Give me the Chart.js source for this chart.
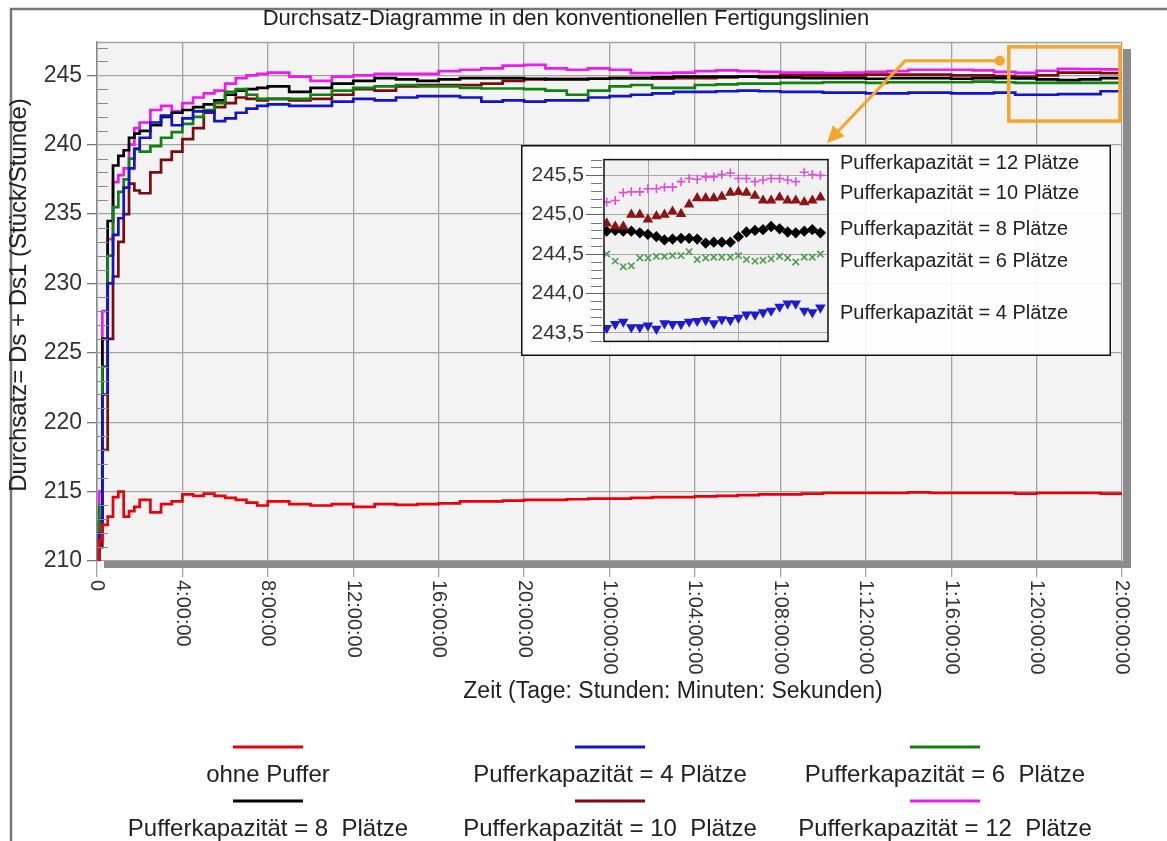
<!DOCTYPE html>
<html lang="de">
<head>
<meta charset="utf-8">
<title>Durchsatz-Diagramme</title>
<script src="https://cdn.jsdelivr.net/npm/chart.js@4.4.1/dist/chart.umd.min.js"></script>
<style>
  html, body { margin: 0; padding: 0; background: #fff; }
  #wrap { position: relative; width: 1167px; height: 841px; }
  #main { position: absolute; left: 0; top: 0; }
  #inset { position: absolute; left: 521px; top: 145px; }
</style>
</head>
<body>
<div id="wrap">
  <canvas id="main" width="1167" height="841"></canvas>
  <canvas id="inset" width="590" height="211"></canvas>
</div>
<script>
// ---- data (hours since start, Stück/Stunde) ----
const hours = [0, 0.1, 0.25, 0.5, 0.75, 1, 1.25, 1.5, 1.75, 2, 2.5, 3, 3.5, 4, 4.5, 5, 5.5, 6, 6.5, 7, 7.5, 8,
  9, 10, 11, 12, 13, 14, 15, 16, 17, 18, 19, 20, 21, 22, 23, 24, 25, 26, 27, 28, 29, 30,
  31, 32, 33, 34, 35, 36, 37, 38, 39, 40, 41, 42, 43, 44, 45, 46, 47, 48];

const ohnePuffer = [210, 211.5, 212.6, 213.2, 214.6, 215.0, 213.2, 213.6, 213.9, 214.4, 213.5, 214.1, 214.3, 214.8, 214.7, 214.85, 214.7, 214.55, 214.4, 214.2, 214.0, 214.3,
  214.1, 214.0, 214.1, 213.9, 214.1, 214.05, 214.1, 214.15, 214.3, 214.3, 214.35, 214.4, 214.4, 214.45, 214.5, 214.5, 214.55, 214.6, 214.6, 214.65, 214.7, 214.75,
  214.8, 214.8, 214.85, 214.9, 214.9, 214.9, 214.9, 214.95, 214.9, 214.9, 214.9, 214.9, 214.85, 214.9, 214.9, 214.9, 214.85, 214.85];
const puffer4 = [210, 212, 222, 230, 233.5, 234.7, 236.9, 238.3, 239.7, 240.5, 241.6, 242.1, 241.4, 241.9, 242.4, 242.4, 241.7, 241.9, 242.3, 242.6, 242.8, 242.9,
  242.8, 242.8, 243.1, 243.3, 243.2, 243.4, 243.5, 243.5, 243.4, 243.1, 243.2, 243.1, 243.2, 243.2, 243.4, 243.5, 243.6, 243.7, 243.8, 243.8, 243.85, 243.9,
  243.85, 243.8, 243.8, 243.75, 243.75, 243.7, 243.7, 243.75, 243.75, 243.7, 243.7, 243.75, 243.6, 243.6, 243.65, 243.65, 243.85, 243.8];
const puffer6 = [210, 214, 224, 232, 235.5, 236.6, 237.5, 239.0, 239.7, 239.5, 239.9, 240.5, 240.9, 241.5, 242.0, 242.5, 243.0, 243.8, 244.0, 243.6, 243.3, 243.3,
  243.3, 243.6, 243.9, 244.1, 244.2, 244.3, 244.2, 244.2, 244.1, 244.05, 244.05, 244.0, 243.9, 243.6, 243.9, 244.2, 244.3, 244.1, 244.1, 244.3, 244.35, 244.4,
  244.4, 244.45, 244.45, 244.5, 244.5, 244.45, 244.5, 244.5, 244.5, 244.5, 244.55, 244.5, 244.45, 244.45, 244.45, 244.45, 244.45, 244.5];
const puffer8 = [210, 213, 226, 234.5, 238.5, 239.2, 239.6, 240.5, 240.8, 241.0, 241.4, 242.0, 242.3, 242.5, 242.7, 242.9, 243.2, 243.6, 243.9, 244.0, 244.1, 244.2,
  243.8, 244.1, 244.4, 244.6, 244.8, 244.7, 244.6, 244.7, 244.8, 244.8, 244.8, 244.75, 244.7, 244.7, 244.75, 244.8, 244.8, 244.85, 244.9, 244.9, 244.9, 244.9,
  244.85, 244.85, 244.8, 244.8, 244.8, 244.75, 244.8, 244.8, 244.8, 244.75, 244.8, 244.8, 244.78, 244.7, 244.65, 244.7, 244.8, 244.75];
const puffer10 = [210, 211, 218, 226, 230.5, 233, 235, 237.2, 236.7, 236.5, 238.0, 238.9, 239.5, 240.4, 241.2, 242.3, 242.7, 243.0, 243.4, 243.3, 243.2, 243.3,
  243.2, 243.3, 243.6, 244.0, 243.9, 244.2, 244.3, 244.3, 244.3, 244.4, 244.6, 244.7, 244.75, 244.75, 244.75, 244.8, 244.8, 244.75, 244.8, 244.8, 244.85, 244.9,
  244.95, 245.0, 245.0, 245.0, 245.0, 245.05, 245.05, 245.05, 245.05, 245.0, 245.0, 244.95, 244.88, 245.0, 245.2, 245.2, 245.15, 245.18];
const puffer12 = [210, 215, 228, 233.2, 237.3, 237.8, 238.3, 240.0, 241.2, 241.6, 242.5, 242.8, 242.4, 243.0, 243.4, 243.7, 243.9, 244.4, 244.8, 245.0, 245.1, 245.2,
  244.9, 244.6, 244.9, 245.0, 245.1, 245.1, 245.1, 245.3, 245.4, 245.5, 245.7, 245.75, 245.5, 245.4, 245.5, 245.4, 245.15, 245.15, 245.2, 245.3, 245.35, 245.3,
  245.25, 245.2, 245.2, 245.15, 245.2, 245.25, 245.3, 245.4, 245.4, 245.4, 245.35, 245.25, 245.17, 245.33, 245.46, 245.45, 245.43, 245.5];

// zoomed detail, last hours of the run
const insetHours = [43.06, 43.25, 43.43, 43.61, 43.80, 43.98, 44.17, 44.35, 44.53, 44.72, 44.90, 45.08, 45.27, 45.45,
  45.63, 45.82, 46.00, 46.18, 46.37, 46.55, 46.73, 46.92, 47.10, 47.28, 47.47, 47.65, 47.83];
const inset12 = [245.16, 245.18, 245.28, 245.29, 245.29, 245.33, 245.33, 245.35, 245.35, 245.42, 245.46, 245.45, 245.48, 245.48,
  245.51, 245.53, 245.46, 245.46, 245.42, 245.44, 245.46, 245.46, 245.44, 245.42, 245.54, 245.51, 245.50];
const inset10 = [244.89, 244.85, 244.85, 245.0, 245.0, 244.94, 244.98, 245.0, 245.04, 245.01, 245.13, 245.21, 245.21, 245.21,
  245.23, 245.28, 245.29, 245.28, 245.24, 245.18, 245.18, 245.22, 245.18, 245.18, 245.16, 245.18, 245.22];
const inset8 = [244.79, 244.80, 244.79, 244.79, 244.77, 244.75, 244.72, 244.68, 244.69, 244.70, 244.70, 244.69, 244.64, 244.65,
  244.65, 244.65, 244.72, 244.78, 244.80, 244.81, 244.85, 244.82, 244.78, 244.77, 244.79, 244.81, 244.77];
const inset6 = [244.50, 244.41, 244.34, 244.35, 244.45, 244.45, 244.47, 244.47, 244.48, 244.48, 244.53, 244.43, 244.45, 244.46,
  244.46, 244.46, 244.48, 244.43, 244.41, 244.42, 244.44, 244.47, 244.45, 244.40, 244.46, 244.46, 244.50];
const inset4 = [243.56, 243.61, 243.64, 243.57, 243.57, 243.59, 243.55, 243.62, 243.61, 243.61, 243.64, 243.65, 243.66, 243.62,
  243.67, 243.66, 243.69, 243.73, 243.73, 243.76, 243.78, 243.83, 243.87, 243.87, 243.78, 243.76, 243.82];

const chartTitle = 'Durchsatz-Diagramme in den konventionellen Fertigungslinien';
const xTitle = 'Zeit (Tage: Stunden: Minuten: Sekunden)';
const yTitle = 'Durchsatz= Ds + Ds1 (Stück/Stunde)';
const yTicks = [210, 215, 220, 225, 230, 235, 240, 245];
const xTickLabels = ['0', '4:00:00', '8:00:00', '12:00:00', '16:00:00', '20:00:00', '1:00:00:00',
  '1:04:00:00', '1:08:00:00', '1:12:00:00', '1:16:00:00', '1:20:00:00', '2:00:00:00'];
const seriesNames = ['ohne Puffer', 'Pufferkapazität = 4 Plätze', 'Pufferkapazität = 6  Plätze',
  'Pufferkapazität = 8  Plätze', 'Pufferkapazität = 10  Plätze', 'Pufferkapazität = 12  Plätze'];
const insetNames = ['Pufferkapazität = 12 Plätze', 'Pufferkapazität = 10 Plätze', 'Pufferkapazität = 8 Plätze',
  'Pufferkapazität = 6 Plätze', 'Pufferkapazität = 4 Plätze'];
const insetYTicks = [243.5, 244.0, 244.5, 245.0, 245.5];
const insetXTicks = [44, 46];
// region of the main chart shown in the inset (hours, Stück/Stunde)
const zoomHours = [42.7, 48];
const zoomRange = [241.7, 247.05];

const FONT = "'Liberation Sans', Arial, sans-serif";
const GRID = '#a4a4a4';
const ORANGE = '#f5a52a';
const seriesColors = ['#e8000b', '#1414c8', '#0f820f', '#000000', '#7a0c0c', '#ec1cec'];
const seriesValues = [ohnePuffer, puffer4, puffer6, puffer8, puffer10, puffer12];

/**
 * Pairs x values with y values for a linear x axis.
 */
function toPoints(xs, ys) {
  return xs.map((x, i) => ({ x, y: ys[i] }));
}

function line(ctx, x1, y1, x2, y2) {
  ctx.beginPath();
  ctx.moveTo(x1, y1);
  ctx.lineTo(x2, y2);
  ctx.stroke();
}

// ---- inset chart ----
const insetPlugin = {
  id: 'inset-decor',
  beforeDraw(chart) {
    const { ctx, chartArea: a, width, height } = chart;
    ctx.save();
    ctx.fillStyle = 'rgba(255,255,255,0.9)';
    ctx.fillRect(0, 0, width, height);
    ctx.fillStyle = '#f1f1f1';
    ctx.fillRect(a.left, a.top, a.right - a.left, a.bottom - a.top);
    ctx.restore();
  },
  afterDraw(chart) {
    const { ctx, chartArea: a, width, height } = chart;
    const y = chart.scales.y;
    ctx.save();
    // minor ticks every 0.1
    ctx.strokeStyle = '#777';
    ctx.lineWidth = 1;
    for (let k = 2434; k <= 2457; k++) {
      if (k % 5 === 0) continue;
      const py = Math.round(y.getPixelForValue(k / 10)) + 0.5;
      line(ctx, a.left - 13, py, a.left - 2, py);
    }
    ctx.strokeStyle = '#111';
    ctx.lineWidth = 1.5;
    ctx.strokeRect(a.left, a.top, a.right - a.left, a.bottom - a.top);
    ctx.strokeRect(0.75, 0.75, width - 1.5, height - 1.5);

    // labels next to the zoomed series
    const labelY = [18, 48, 84, 116, 168];
    ctx.fillStyle = '#222';
    ctx.font = `20px ${FONT}`;
    ctx.textAlign = 'left';
    ctx.textBaseline = 'middle';
    insetNames.forEach((name, i) => ctx.fillText(name, a.right + 12, labelY[i]));
    ctx.restore();
  }
};

const insetStyles = [
  { data: inset12, color: '#e04ce0', style: 'cross', rot: 0 },
  { data: inset10, color: '#8c1414', style: 'triangle', rot: 0 },
  { data: inset8, color: '#000000', style: 'rectRot', rot: 0 },
  { data: inset6, color: '#4c9c4c', style: 'crossRot', rot: 0 },
  { data: inset4, color: '#1c1cd8', style: 'triangle', rot: 180 }
];

const insetChart = new Chart(document.getElementById('inset'), {
  type: 'scatter',
  data: {
    datasets: insetStyles.map((s, i) => ({
      label: insetNames[i],
      data: toPoints(insetHours, s.data),
      showLine: false,
      pointStyle: s.style,
      pointRotation: s.rot,
      pointRadius: 4.5,
      pointBorderWidth: 1.6,
      borderColor: s.color,
      backgroundColor: s.color
    }))
  },
  options: {
    responsive: false,
    animation: false,
    layout: { padding: { left: 0, top: 1, right: 283, bottom: 1 } },
    plugins: { legend: { display: false }, tooltip: { enabled: false } },
    scales: {
      x: {
        type: 'linear', min: 43, max: 48,
        afterBuildTicks(s) { s.ticks = insetXTicks.map(v => ({ value: v })); },
        ticks: { display: false },
        grid: { color: '#a8a8a8', drawTicks: false },
        border: { display: false },
        afterFit(s) { s.height = 0; }
      },
      y: {
        min: 243.39, max: 245.7,
        afterBuildTicks(s) { s.ticks = insetYTicks.map(v => ({ value: v })); },
        ticks: {
          callback(v) { return v.toFixed(1).replace('.', ','); },
          font: { family: FONT, size: 21 },
          color: '#333',
          padding: 2
        },
        grid: { color: '#a8a8a8', tickLength: 18, tickColor: '#666' },
        border: { display: false },
        afterFit(s) { s.width = 83; }
      }
    }
  },
  plugins: [insetPlugin]
});

// ---- main chart ----
const mainPlugin = {
  id: 'main-decor',
  beforeDraw(chart) {
    const { ctx, chartArea: a, width, height } = chart;
    ctx.save();
    ctx.fillStyle = '#fff';
    ctx.fillRect(0, 0, width, height);
    ctx.fillStyle = '#f3f3f3';
    ctx.fillRect(a.left, a.top, a.right - a.left, a.bottom - a.top);
    ctx.strokeStyle = '#777';
    ctx.lineWidth = 2.5;
    ctx.strokeRect(11, 9, width + 20, height + 20);
    ctx.restore();
  },
  afterDraw(chart) {
    const { ctx, chartArea: a } = chart;
    const x = chart.scales.x, y = chart.scales.y;
    ctx.save();

    // minor ticks inside the plot, one per unit
    ctx.strokeStyle = '#8a8a8a';
    ctx.lineWidth = 1;
    for (let v = Math.ceil(y.min) + 1; v < y.max; v++) {
      if (v % 5 === 0) continue;
      const py = Math.round(y.getPixelForValue(v)) + 0.5;
      line(ctx, a.left, py, a.left + 11, py);
    }
    // top frame line and shadow
    ctx.strokeStyle = GRID;
    ctx.lineWidth = 1.3;
    line(ctx, a.left, a.top + 0.5, a.right, a.top + 0.5);
    ctx.fillStyle = '#8c8c8c';
    ctx.fillRect(a.left + 7, a.bottom, a.right - a.left + 2, 7);
    ctx.fillRect(a.right + 1, a.top + 7, 8, a.bottom - a.top);

    // x tick labels, turned clockwise
    ctx.fillStyle = '#333';
    ctx.font = `20px ${FONT}`;
    ctx.textAlign = 'left';
    ctx.textBaseline = 'middle';
    x.ticks.forEach((t, i) => {
      ctx.save();
      ctx.translate(x.getPixelForValue(t.value), a.bottom + 19);
      ctx.rotate(Math.PI / 2);
      ctx.fillText(xTickLabels[i], 0, 0);
      ctx.restore();
    });

    // axis titles
    ctx.fillStyle = '#222';
    ctx.textAlign = 'center';
    ctx.font = `23px ${FONT}`;
    ctx.fillText(xTitle, 673, 692);
    ctx.save();
    ctx.translate(19, 295);
    ctx.rotate(-Math.PI / 2);
    ctx.font = `24px ${FONT}`;
    ctx.fillText(yTitle, 0, 0);
    ctx.restore();

    // legend: short line above each name, three columns
    const cols = [268, 610, 945];
    const rows = [747, 801];
    ctx.font = `24px ${FONT}`;
    chart.data.datasets.forEach((ds, i) => {
      const cx = cols[i % 3];
      const ly = rows[Math.floor(i / 3)];
      ctx.strokeStyle = ds.borderColor;
      ctx.lineWidth = 3;
      line(ctx, cx - 35, ly, cx + 35, ly);
      ctx.fillStyle = '#222';
      ctx.fillText(ds.label, cx, ly + 28);
    });

    // orange box round the zoomed region, arrow to the inset
    const bx0 = x.getPixelForValue(zoomHours[0]);
    const bx1 = x.getPixelForValue(zoomHours[1]) - 2;
    const by0 = y.getPixelForValue(zoomRange[1]);
    const by1 = y.getPixelForValue(zoomRange[0]);
    ctx.strokeStyle = ORANGE;
    ctx.fillStyle = ORANGE;
    ctx.lineWidth = 3.5;
    ctx.strokeRect(bx0, by0, bx1 - bx0, by1 - by0);

    const ia = insetChart.chartArea;
    const canvasInset = document.getElementById('inset');
    const tip = { x: canvasInset.offsetLeft + ia.right - 1, y: canvasInset.offsetTop - 2 };
    const dot = { x: bx0 - 9, y: by0 + 14 };
    const elbow = { x: tip.x + 78, y: dot.y };
    const len = Math.hypot(tip.x - elbow.x, tip.y - elbow.y);
    const ux = (tip.x - elbow.x) / len, uy = (tip.y - elbow.y) / len;
    ctx.lineWidth = 3;
    ctx.beginPath();
    ctx.moveTo(dot.x, dot.y);
    ctx.lineTo(elbow.x, elbow.y);
    ctx.lineTo(tip.x - ux * 12, tip.y - uy * 12);
    ctx.stroke();
    ctx.beginPath();
    ctx.arc(dot.x, dot.y, 5, 0, Math.PI * 2);
    ctx.fill();
    ctx.beginPath();
    ctx.moveTo(tip.x, tip.y);
    ctx.lineTo(tip.x - ux * 17 - uy * 8, tip.y - uy * 17 + ux * 8);
    ctx.lineTo(tip.x - ux * 17 + uy * 8, tip.y - uy * 17 - ux * 8);
    ctx.closePath();
    ctx.fill();
    ctx.restore();
  }
};

const mainChart = new Chart(document.getElementById('main'), {
  type: 'line',
  data: {
    datasets: seriesNames.map((name, i) => ({
      label: name,
      data: toPoints(hours, seriesValues[i]),
      borderColor: seriesColors[i],
      borderWidth: 2.7,
      pointRadius: 0,
      stepped: true,
      fill: false
    }))
  },
  options: {
    responsive: false,
    animation: false,
    layout: { padding: { left: 10, top: 6, right: 45, bottom: 0 } },
    plugins: {
      legend: { display: false },
      tooltip: { enabled: false },
      title: {
        display: true,
        text: chartTitle,
        color: '#1e1e1e',
        font: { family: FONT, size: 22, weight: 'normal' },
        padding: { top: 0, bottom: 9.6 }
      }
    },
    scales: {
      x: {
        type: 'linear', min: 0, max: 48,
        ticks: { display: false, stepSize: 4 },
        grid: { color: GRID, lineWidth: 1.3, tickLength: 16, drawTicks: true },
        border: { display: false },
        afterFit(s) { s.height = 280; }
      },
      y: {
        min: 210, max: 247.4,
        afterBuildTicks(s) { s.ticks = yTicks.map(v => ({ value: v })); },
        ticks: { font: { family: FONT, size: 23 }, color: '#333', padding: 5 },
        grid: { color: GRID, lineWidth: 1.3, tickLength: 10, tickColor: '#777' },
        border: { color: '#8a8a8a', width: 1.5 },
        afterFit(s) { s.width = 87; }
      }
    }
  },
  plugins: [mainPlugin]
});
</script>
</body>
</html>
